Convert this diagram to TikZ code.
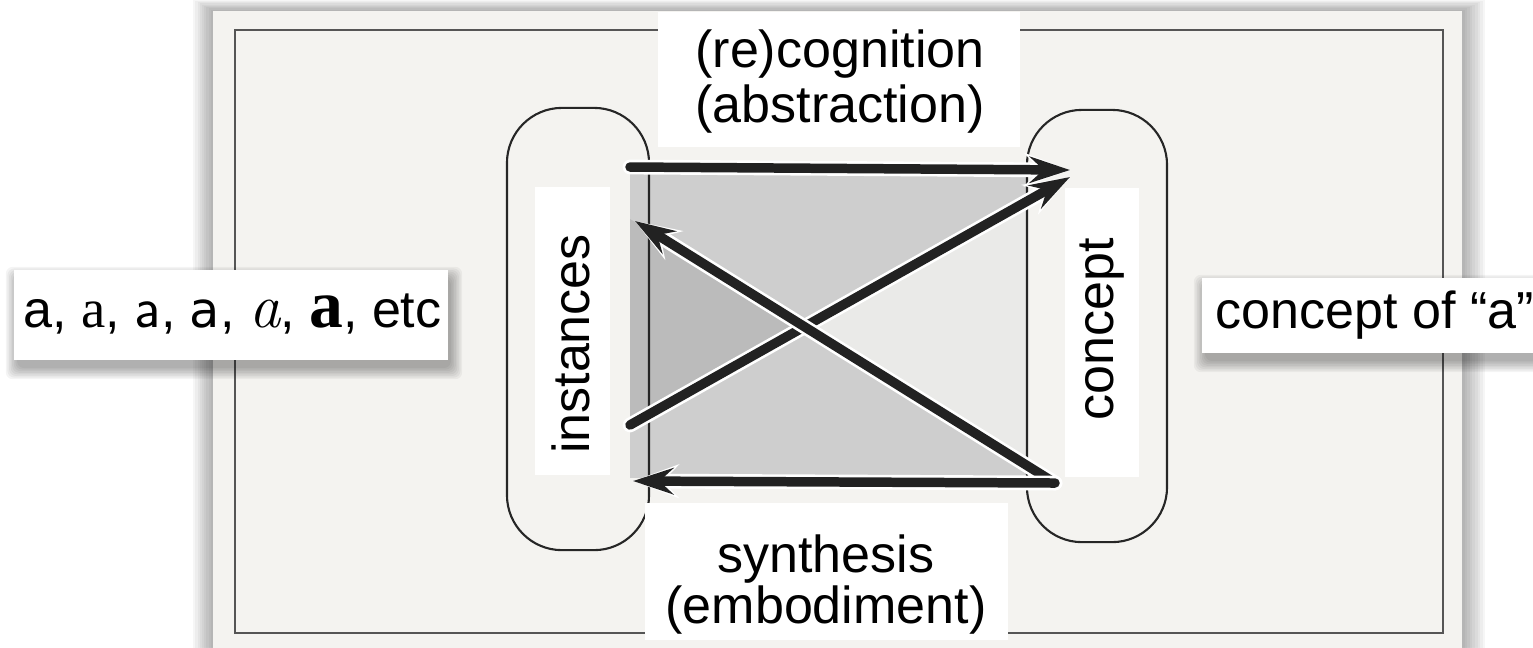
\documentclass[tikz,border=0pt]{standalone}
\usepackage{fontspec}
\setmainfont{Liberation Sans}
\newfontfamily\serifa{Liberation Serif}[Scale=1.05]
\newfontfamily\serifb{Liberation Serif}[Scale=1.3]
\newfontfamily\dejavua{DejaVu Sans}[Scale=0.95]
\newfontfamily\lmroma{Latin Modern Roman}[Scale=1.2]
\newfontfamily\lmsansa{Latin Modern Sans}[Scale=1.12]
\usetikzlibrary{arrows.meta}
\definecolor{cardbg}{HTML}{F4F3F0}
\definecolor{bordc}{HTML}{555555}
\definecolor{graymid}{HTML}{CECECE}
\definecolor{graydark}{HTML}{BBBBBB}
\definecolor{graylight}{HTML}{EAEAE8}
\definecolor{arrowc}{HTML}{222222}
\newcommand{\blurshadow}[4]{%
  \foreach \ii in {0,...,7}{%
    \fill[black,opacity=0.045,rounded corners=2pt]
      ({#1-\ii*1.6+3},{#2-\ii*1.6+8}) rectangle ({#3+\ii*1.6+3},{#4+\ii*1.6+8});}}
\tikzset{
  labfont/.style={font=\fontsize{14.8pt}{15.4pt}\selectfont},
  whitebox/.style={fill=white, inner sep=0pt, draw=none},
  rbox/.style={draw=black!85, line width=0.6pt, rounded corners=0.55cm, inner sep=0pt},
  arr/.style={line width=2.7pt, draw=arrowc, line cap=round,
    -{Stealth[length=11.5pt, width=7.5pt, inset=4pt]},
    preaction={draw=white, line width=4.2pt, line cap=round,
      -{Stealth[length=13pt, width=9.5pt, inset=4.5pt]}}}
}
\begin{document}
\begin{tikzpicture}[x=0.01cm,y=-0.01cm]
\useasboundingbox (0,0) rectangle (1533,647);
\fill[white] (0,0) rectangle (1533,647);
% card shadow
\foreach \ii in {1,...,9}{
  \fill[black,opacity=0.035] ({213-\ii*2.2},{11-\ii*1.3}) rectangle ({1462+\ii*2.6},660);}
\fill[cardbg] (213,11) rectangle (1462,660);
\draw[bordc, line width=0.4pt] (235,30) rectangle (1443,633);
% shaded region
\coordinate (cross) at (805,327);
\fill[graymid] (630,173) rectangle (1027,478);
\fill[graylight] (cross) -- (1027,201) -- (1027,466) -- cycle;
\fill[graydark] (cross) -- (630,219) -- (630,425) -- cycle;
% rounded boxes
\node[rbox, minimum width=1.42cm, minimum height=4.42cm] (inst) at (578,329) {};
\node[rbox, minimum width=1.40cm, minimum height=4.32cm] (conc) at (1097,326) {};
% arrow ends
\coordinate (ta) at (630,167);
\coordinate (tb) at (1070,170);
\coordinate (ua) at (630,425);
\coordinate (ub) at (1070,177);
\coordinate (br) at (1055,483);
\coordinate (dl) at (635,221);
\coordinate (bl) at (633,481);
\draw[arr] (ta) -- (tb);
\draw[arr] (ua) -- (ub);
\draw[arr] (br) -- (dl);
\draw[arr] (br) -- (bl);
% rotated labels
\node[whitebox, minimum width=0.75cm, minimum height=2.88cm] (instbox) at (572.5,331) {};
\node[labfont, rotate=90] (insttext) at (571,344) {instances};
\node[whitebox, minimum width=0.74cm, minimum height=2.89cm] (concbox) at (1102,332.5) {};
\node[labfont, rotate=90] (conctext) at (1102,329) {concept};
% top and bottom labels
\node[whitebox, minimum width=3.62cm, minimum height=1.35cm] (topbox) at (839,79.5) {};
\node[labfont, anchor=base] (toptext1) at (840,67) {(re)cognition};
\node[labfont, anchor=base] (toptext2) at (840,122) {(abstraction)};
\node[whitebox, minimum width=3.63cm, minimum height=1.37cm] (botbox) at (826.5,571.5) {};
\node[labfont, anchor=base] (bottext1) at (826,572) {synthesis};
\node[labfont, anchor=base] (bottext2) at (826,623) {(embodiment)};
% side labels
\blurshadow{14}{270}{448}{360}
\node[whitebox, minimum width=4.34cm, minimum height=0.90cm] (leftbox) at (231,315) {};
\node[labfont, anchor=base west, inner sep=0pt] (lefttext) at (23,327)
  {a, {\serifa a}, {\lmsansa a}, {\dejavua a}, {\lmroma\itshape a}, {\serifb\bfseries a}, etc};
\blurshadow{1202}{278}{1545}{353}
\node[whitebox, minimum width=3.45cm, minimum height=0.75cm] (rightbox) at (1374.5,315.5) {};
\node[labfont, anchor=base west, inner sep=0pt] (righttext) at (1215,328) {concept of “a”};
\end{tikzpicture}
\end{document}
